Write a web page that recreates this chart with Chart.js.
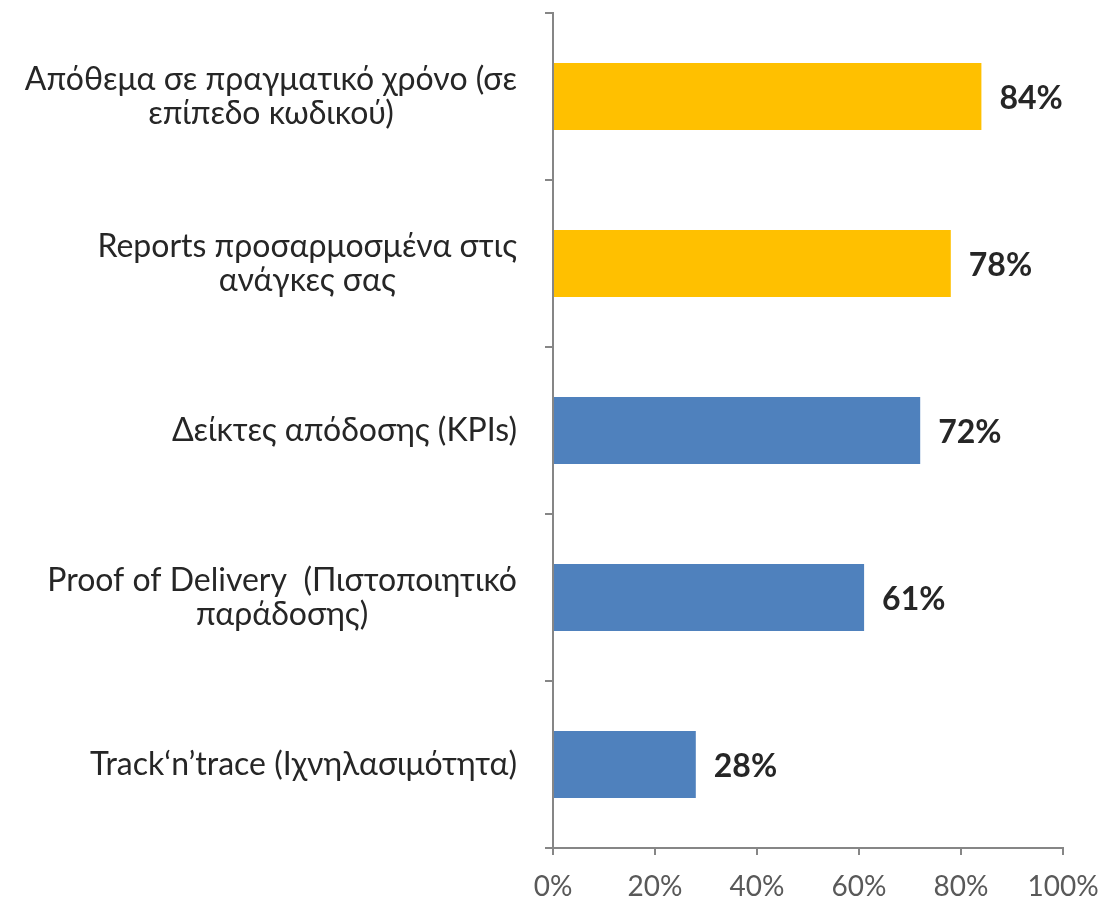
<!DOCTYPE html>
<html>
<head>
<meta charset="utf-8">
<script src="https://cdn.jsdelivr.net/npm/chart.js@4"></script>
<style>
  html, body { margin: 0; padding: 0; background: #fff; }
  #chart { display: block; }
</style>
</head>
<body>
<canvas id="chart" width="1106" height="903"></canvas>
<script>
// Categories (each entry is the lines of one label)
const categories = [
  ["Απόθεμα σε πραγματικό χρόνο (σε", "επίπεδο κωδικού)"],
  ["Reports προσαρμοσμένα στις", "ανάγκες σας"],
  ["Δείκτες απόδοσης (KPIs)"],
  ["Proof of Delivery  (Πιστοποιητικό", "παράδοσης)"],
  ["Track‘n’trace (Ιχνηλασιμότητα)"]
];
const values = [84, 78, 72, 61, 28];
const barColors = ["#FFC000", "#FFC000", "#4F81BD", "#4F81BD", "#4F81BD"];
const xTicks = [0, 20, 40, 60, 80, 100];

const FONT = "Lato, 'DejaVu Sans', sans-serif";

// Draw category labels: lines centred within each block, block right-aligned
const categoryLabels = {
  id: "categoryLabels",
  afterDraw(chart) {
    const ctx = chart.ctx;
    const y = chart.scales.y;
    const rightEdge = y.right - 36;
    const lineH = 34;
    ctx.save();
    ctx.font = "32px " + FONT;
    ctx.fillStyle = "#262626";
    ctx.textAlign = "center";
    ctx.textBaseline = "middle";
    categories.forEach((lines, i) => {
      const w = Math.max(...lines.map(l => ctx.measureText(l).width));
      const cx = rightEdge - w / 2;
      const cy = y.getPixelForValue(i);
      const top = cy - (lines.length - 1) * lineH / 2;
      lines.forEach((l, j) => ctx.fillText(l, cx, top + j * lineH));
    });
    ctx.restore();
  }
};

// Value labels to the right of each bar
const valueLabels = {
  id: "valueLabels",
  afterDatasetsDraw(chart) {
    const ctx = chart.ctx;
    const meta = chart.getDatasetMeta(0);
    ctx.save();
    ctx.font = "bold 32px " + FONT;
    ctx.fillStyle = "#262626";
    ctx.textAlign = "left";
    ctx.textBaseline = "middle";
    meta.data.forEach((bar, i) => {
      ctx.fillText(values[i] + "%", bar.x + 18, bar.y + 2);
    });
    ctx.restore();
  }
};

const ctx = document.getElementById("chart").getContext("2d");
new Chart(ctx, {
  type: "bar",
  data: {
    labels: categories.map(c => c.join(" ")),
    datasets: [{
      data: values,
      backgroundColor: barColors,
      borderWidth: 0,
      categoryPercentage: 1.0,
      barPercentage: 0.4
    }]
  },
  options: {
    indexAxis: "y",
    responsive: false,
    animation: false,
    layout: { padding: { left: 545, right: 43, top: 13, bottom: 0 } },
    plugins: {
      legend: { display: false },
      tooltip: { enabled: false }
    },
    scales: {
      x: {
        min: 0,
        max: 100,
        afterBuildTicks: axis => { axis.ticks = xTicks.map(v => ({ value: v })); },
        afterFit: axis => { axis.height = 55; axis.paddingLeft = 0; axis.paddingRight = 0; },
        grid: { display: true, drawOnChartArea: false, tickLength: 7, color: "#868686", lineWidth: 2 },
        border: { color: "#868686", width: 2 },
        ticks: {
          color: "#595959",
          font: { family: FONT, size: 28, lineHeight: 1 },
          padding: 18,
          maxRotation: 0,
          callback: v => v + "%"
        }
      },
      y: {
        grid: { display: true, drawOnChartArea: false, tickLength: 8, color: "#868686", lineWidth: 2, offset: true },
        border: { color: "#868686", width: 2 },
        ticks: { display: false }
      }
    }
  },
  plugins: [categoryLabels, valueLabels]
});
</script>
</body>
</html>
